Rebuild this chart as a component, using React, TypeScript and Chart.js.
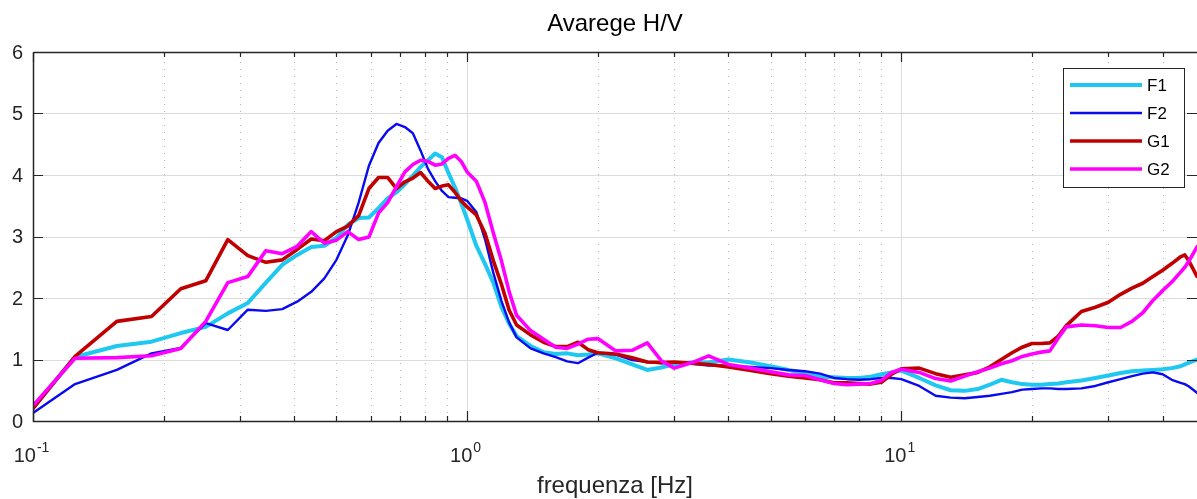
import React, { useEffect, useRef } from "react";
import { Chart, registerables } from "chart.js";

Chart.register(...registerables);

const chartTitle = "Avarege H/V";
const xAxisLabel = "frequenza [Hz]";

const frequencies = [
  0.1, 0.125, 0.156, 0.1875, 0.219, 0.25, 0.281, 0.3125, 0.344, 0.375, 0.406, 0.4375, 0.469, 0.5, 0.531,
  0.5625, 0.594, 0.625, 0.656, 0.6875, 0.719, 0.75, 0.781, 0.8125, 0.844, 0.875, 0.906, 0.9375, 0.969, 1.0,
  1.05, 1.1, 1.15, 1.2, 1.25, 1.3,
  1.4, 1.5, 1.6, 1.7, 1.8, 1.9, 2.0,
  2.2, 2.4, 2.6, 2.8, 3.0,
  3.3, 3.6, 4.0, 4.5, 5.0, 5.5, 6.0, 6.5, 7.0, 7.5, 8.0, 8.5, 9.0, 9.5, 10,
  11, 12, 13, 14, 15, 16, 17, 18, 19, 20, 21, 22, 23, 24,
  26, 28, 30, 32, 34, 36, 38, 40, 42, 44, 45, 46, 48,
];

const f1Values = [
  0.22, 1.04, 1.22, 1.29, 1.43, 1.53, 1.75, 1.92, 2.25, 2.54, 2.70, 2.83, 2.85, 2.98, 3.19,
  3.30, 3.31, 3.46, 3.62, 3.72, 3.85, 3.99, 4.13, 4.24, 4.35, 4.29, 4.03, 3.80, 3.54, 3.28,
  2.85, 2.55, 2.24, 1.85, 1.58, 1.38,
  1.22, 1.12, 1.09, 1.10, 1.07, 1.08, 1.10,
  1.02, 0.92, 0.83, 0.87, 0.92,
  0.95, 0.95, 1.0, 0.95, 0.89, 0.83, 0.78, 0.72, 0.71, 0.70, 0.70, 0.72, 0.76, 0.79, 0.82,
  0.70, 0.58, 0.50, 0.49, 0.52, 0.59, 0.67, 0.63, 0.60, 0.59, 0.59, 0.60, 0.61, 0.63,
  0.66, 0.70, 0.74, 0.78, 0.81, 0.82, 0.83, 0.84, 0.86, 0.89, 0.92, 0.95, 1.0,
];

const f2Values = [
  0.13, 0.60, 0.83, 1.10, 1.19, 1.59, 1.48, 1.81, 1.79, 1.82, 1.94, 2.10, 2.32, 2.62, 3.02,
  3.55, 4.15, 4.52, 4.72, 4.83, 4.78, 4.68, 4.40, 4.10, 3.90, 3.74, 3.64, 3.63, 3.62, 3.58,
  3.40, 2.95, 2.40, 1.95, 1.60, 1.36,
  1.18, 1.10, 1.04, 0.97, 0.94, 1.03, 1.11,
  1.08, 0.99, 0.96, 0.94, 0.95,
  0.93, 0.90, 0.90, 0.88, 0.86, 0.83, 0.81, 0.77, 0.70, 0.68, 0.67, 0.68, 0.70, 0.70, 0.68,
  0.57, 0.41, 0.38, 0.37, 0.39, 0.41, 0.44, 0.47, 0.51, 0.52, 0.53, 0.53, 0.52, 0.52,
  0.53, 0.57, 0.63, 0.68, 0.73, 0.77, 0.79, 0.76, 0.67, 0.62, 0.60, 0.56, 0.46,
];

const g1Values = [
  0.20, 1.05, 1.62, 1.70, 2.15, 2.28, 2.95, 2.69, 2.58, 2.62, 2.79, 2.96, 2.93, 3.08, 3.17,
  3.34, 3.78, 3.96, 3.96, 3.78, 3.89, 3.95, 4.04, 3.90, 3.78, 3.82, 3.84, 3.72, 3.58, 3.48,
  3.35, 3.05, 2.60, 2.22, 1.80, 1.56,
  1.40, 1.28, 1.21, 1.21, 1.28, 1.16, 1.11,
  1.09, 1.03, 0.96, 0.95, 0.96,
  0.94, 0.92, 0.88, 0.82, 0.77, 0.73, 0.70, 0.67, 0.62, 0.62, 0.61, 0.60, 0.63, 0.76, 0.85,
  0.86, 0.77, 0.71, 0.75, 0.79, 0.88, 1.0, 1.11, 1.20, 1.26, 1.26, 1.27, 1.38, 1.55,
  1.78, 1.85, 1.93, 2.06, 2.16, 2.24, 2.35, 2.45, 2.56, 2.67, 2.70, 2.60, 2.35,
];

const g2Values = [
  0.25, 1.02, 1.03, 1.06, 1.18, 1.62, 2.25, 2.35, 2.77, 2.72, 2.84, 3.08, 2.89, 2.94, 3.08,
  2.95, 2.99, 3.38, 3.55, 3.81, 4.05, 4.17, 4.24, 4.22, 4.16, 4.18, 4.27, 4.32, 4.22, 4.05,
  3.90, 3.55, 3.05, 2.60, 2.10, 1.72,
  1.47, 1.33, 1.20, 1.18, 1.25, 1.33, 1.34,
  1.14, 1.15, 1.27, 0.98, 0.86,
  0.95, 1.06, 0.92, 0.86, 0.80, 0.75, 0.74, 0.67, 0.61, 0.59, 0.60, 0.61, 0.66, 0.79, 0.84,
  0.79, 0.69, 0.65, 0.73, 0.80, 0.86, 0.93, 0.98, 1.05, 1.09, 1.12, 1.14, 1.35, 1.53,
  1.56, 1.55, 1.52, 1.52, 1.62, 1.76, 1.96, 2.12, 2.26, 2.42, 2.50, 2.60, 2.83,
];

const seriesNames = ["F1", "F2", "G1", "G2"];
const seriesColors = ["#1ec8f0", "#0a0af0", "#c00000", "#ff00ff"];
const seriesWidths = [4, 2.4, 3.6, 3.6];
const seriesValues = [f1Values, f2Values, g1Values, g2Values];

const yTickValues = [0, 1, 2, 3, 4, 5, 6];
const xMajorTickValues = [0.1, 1, 10];
const xMajorTickExponents = ["-1", "0", "1"];
const xMinorTickValues = [0.2, 0.3, 0.4, 0.5, 0.6, 0.7, 0.8, 0.9, 2, 3, 4, 5, 6, 7, 8, 9, 20, 30, 40];
const xMin = 0.1;
const xMax = 48;
const yMin = 0;
const yMax = 6;

const FONT = '"Liberation Sans", Arial, Helvetica, sans-serif';
const AXIS_COLOR = "#262626";

const matlabAxesPlugin = {
  id: "matlabAxes",
  beforeDatasetsDraw(chart: any) {
    const { ctx, chartArea: a, scales } = chart;
    const xs = scales.x;
    const ys = scales.y;
    ctx.save();
    ctx.fillStyle = "#ffffff";
    ctx.fillRect(a.left, a.top, a.right - a.left, a.bottom - a.top);
    // minor dotted grid
    ctx.strokeStyle = "#b4b4b4";
    ctx.lineWidth = 1;
    ctx.setLineDash([1, 6]);
    for (const v of xMinorTickValues) {
      const px = Math.round(xs.getPixelForValue(v)) + 0.5;
      ctx.beginPath();
      ctx.moveTo(px, a.top + 3);
      ctx.lineTo(px, a.bottom);
      ctx.stroke();
    }
    ctx.setLineDash([]);
    // major grid
    ctx.strokeStyle = "#dcdcdc";
    for (const v of yTickValues) {
      if (v === yMin || v === yMax) continue;
      const py = Math.round(ys.getPixelForValue(v)) + 0.5;
      ctx.beginPath();
      ctx.moveTo(a.left, py);
      ctx.lineTo(a.right, py);
      ctx.stroke();
    }
    for (const v of xMajorTickValues) {
      if (v === xMin) continue;
      const px = Math.round(xs.getPixelForValue(v)) + 0.5;
      ctx.beginPath();
      ctx.moveTo(px, a.top);
      ctx.lineTo(px, a.bottom);
      ctx.stroke();
    }
    ctx.restore();
  },
  afterDatasetsDraw(chart: any) {
    const { ctx, chartArea: a, scales } = chart;
    const xs = scales.x;
    const ys = scales.y;
    ctx.save();
    // axes box (left, bottom, top)
    ctx.strokeStyle = AXIS_COLOR;
    ctx.lineWidth = 1.5;
    ctx.beginPath();
    ctx.moveTo(a.left + 0.5, a.top + 0.5);
    ctx.lineTo(a.left + 0.5, a.bottom + 0.5);
    ctx.lineTo(a.right, a.bottom + 0.5);
    ctx.moveTo(a.left + 0.5, a.top + 0.5);
    ctx.lineTo(a.right, a.top + 0.5);
    ctx.stroke();
    ctx.lineWidth = 1.2;
    // y ticks
    for (const v of yTickValues) {
      const py = Math.round(ys.getPixelForValue(v)) + 0.5;
      ctx.beginPath();
      ctx.moveTo(a.left, py);
      ctx.lineTo(a.left + 10, py);
      ctx.moveTo(a.right, py);
      ctx.lineTo(a.right - 10, py);
      ctx.stroke();
    }
    // x ticks
    const drawXTick = (v: number, len: number) => {
      const px = Math.round(xs.getPixelForValue(v)) + 0.5;
      ctx.beginPath();
      ctx.moveTo(px, a.bottom);
      ctx.lineTo(px, a.bottom - len);
      ctx.moveTo(px, a.top);
      ctx.lineTo(px, a.top + len);
      ctx.stroke();
    };
    xMajorTickValues.forEach((v) => drawXTick(v, 10));
    xMinorTickValues.forEach((v) => drawXTick(v, 5));

    // y labels
    ctx.fillStyle = AXIS_COLOR;
    ctx.font = `20px ${FONT}`;
    ctx.textAlign = "right";
    ctx.textBaseline = "middle";
    for (const v of yTickValues) {
      ctx.fillText(String(v), a.left - 10, ys.getPixelForValue(v) + 1);
    }
    // x labels with superscript
    ctx.textBaseline = "alphabetic";
    ctx.textAlign = "left";
    xMajorTickValues.forEach((v, i) => {
      const px = xs.getPixelForValue(v);
      ctx.font = `20px ${FONT}`;
      const baseW = ctx.measureText("10").width;
      ctx.font = `14px ${FONT}`;
      const supW = ctx.measureText(xMajorTickExponents[i]).width;
      const start = px - (baseW + supW) / 2 - 2;
      ctx.font = `20px ${FONT}`;
      ctx.fillText("10", start, 462);
      ctx.font = `14px ${FONT}`;
      ctx.fillText(xMajorTickExponents[i], start + baseW + 1, 452);
    });

    // title & x label
    const cx = (a.left + a.right) / 2;
    ctx.textAlign = "center";
    ctx.fillStyle = "#000000";
    ctx.font = `24px ${FONT}`;
    ctx.fillText(chartTitle, cx, 31);
    ctx.fillStyle = AXIS_COLOR;
    ctx.fillText(xAxisLabel, cx, 493);

    // legend
    const lx = 1063.5;
    const ly = 68.5;
    const lw = 121;
    const lh = 119;
    ctx.fillStyle = "#ffffff";
    ctx.fillRect(lx, ly, lw, lh);
    ctx.strokeStyle = AXIS_COLOR;
    ctx.lineWidth = 1;
    ctx.strokeRect(lx, ly, lw, lh);
    ctx.textAlign = "left";
    ctx.textBaseline = "middle";
    ctx.font = `17px ${FONT}`;
    seriesNames.forEach((name, i) => {
      const y = 85 + i * 28;
      ctx.strokeStyle = seriesColors[i];
      ctx.lineWidth = seriesWidths[i];
      ctx.beginPath();
      ctx.moveTo(1070, y);
      ctx.lineTo(1142, y);
      ctx.stroke();
      ctx.fillStyle = "#000000";
      ctx.fillText(name, 1147, y + 1);
    });
    ctx.restore();
  },
};

export default function App() {
  const canvasRef = useRef<HTMLCanvasElement | null>(null);

  useEffect(() => {
    if (!canvasRef.current) return;
    const datasets = seriesNames.map((name, i) => ({
      label: name,
      data: frequencies.map((f, j) => ({ x: f, y: seriesValues[i][j] })),
      borderColor: seriesColors[i],
      backgroundColor: seriesColors[i],
      borderWidth: seriesWidths[i],
      pointRadius: 0,
      tension: 0,
      fill: false,
      order: seriesNames.length - i,
      borderJoinStyle: "round" as const,
      borderCapStyle: "round" as const,
    }));
    const chart = new Chart(canvasRef.current, {
      type: "line",
      data: { datasets },
      options: {
        animation: false,
        responsive: false,
        devicePixelRatio: 1,
        layout: { padding: { left: 33, right: 0, top: 52, bottom: 78 } },
        scales: {
          x: { type: "logarithmic", min: xMin, max: xMax, display: false },
          y: { type: "linear", min: yMin, max: yMax, display: false },
        },
        plugins: {
          legend: { display: false },
          title: { display: false },
          tooltip: { enabled: false },
        },
      },
      plugins: [matlabAxesPlugin],
    });
    return () => chart.destroy();
  }, []);

  return (
    <div style={{ position: "fixed", left: 0, top: 0, width: 1197, height: 499, background: "#ffffff" }}>
      <canvas ref={canvasRef} width={1197} height={499} style={{ display: "block" }} />
    </div>
  );
}
